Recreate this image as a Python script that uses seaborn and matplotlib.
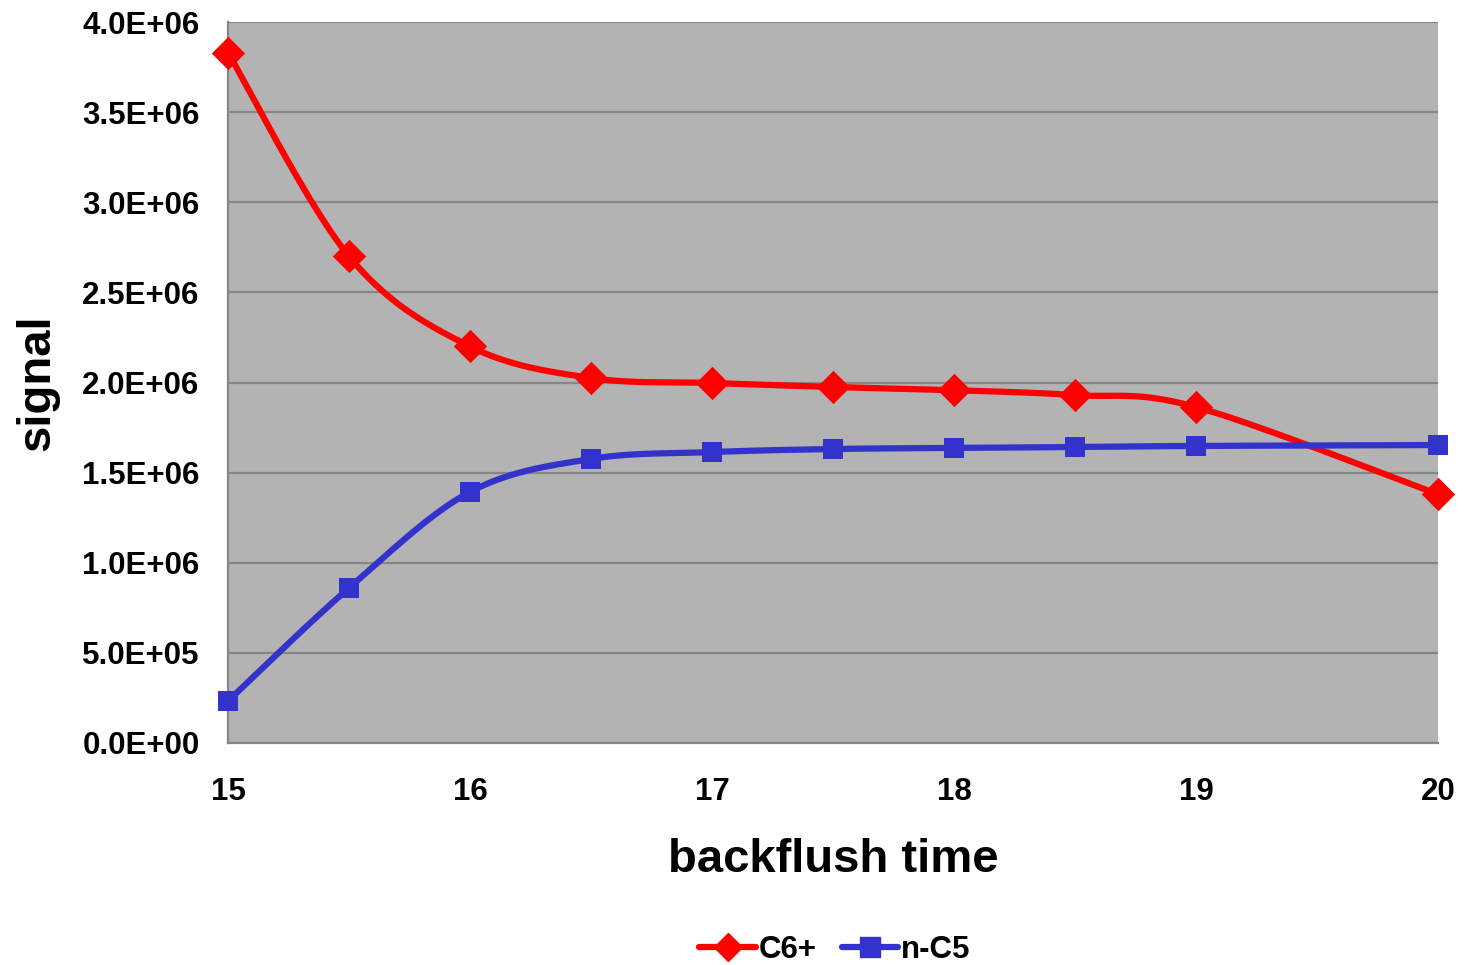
import numpy as np
import pandas as pd
import matplotlib
matplotlib.use("Agg")
import matplotlib.pyplot as plt
from matplotlib.lines import Line2D
from matplotlib.ticker import FuncFormatter
import seaborn as sns

# ---- data ----
backflush_time = [15, 15.5, 16, 16.5, 17, 17.5, 18, 18.5, 19, 20]
c6_plus = [3.83e6, 2.70e6, 2.20e6, 2.025e6, 1.997e6, 1.975e6, 1.957e6, 1.93e6, 1.864e6, 1.38e6]
n_c5 = [0.233e6, 0.86e6, 1.393e6, 1.576e6, 1.614e6, 1.631e6, 1.637e6, 1.642e6, 1.648e6, 1.653e6]
series_names = ["C6+", "n-C5"]
y_ticks = [0, 0.5e6, 1.0e6, 1.5e6, 2.0e6, 2.5e6, 3.0e6, 3.5e6, 4.0e6]
x_ticks = [15, 16, 17, 18, 19, 20]


def smooth(xs, ys, n=40):
    """Excel-style smoothed line: cubic Bezier through the points
    with control points from neighbouring points (Catmull-Rom)."""
    P = np.column_stack([xs, ys]).astype(float)
    P_ext = np.vstack([P[0], P, P[-1]])
    out = []
    t = np.linspace(0, 1, n)[:, None]
    for i in range(1, len(P_ext) - 2):
        p0, p1, p2, p3 = P_ext[i - 1], P_ext[i], P_ext[i + 1], P_ext[i + 2]
        c1 = p1 + (p2 - p0) / 6.0
        c2 = p2 - (p3 - p1) / 6.0
        seg = ((1 - t) ** 3) * p1 + 3 * ((1 - t) ** 2) * t * c1 + 3 * (1 - t) * t ** 2 * c2 + t ** 3 * p2
        out.append(seg if i == 1 else seg[1:])
    arr = np.vstack(out)
    return arr[:, 0], arr[:, 1]


sns.set_theme(style="white")
plt.rcParams["font.family"] = ["Liberation Sans", "DejaVu Sans"]
plt.rcParams["font.weight"] = "bold"
plt.rcParams["text.color"] = "black"
plt.rcParams["axes.labelcolor"] = "black"

fig = plt.figure(figsize=(14.73, 9.65), dpi=100)
ax = fig.add_axes([228 / 1473, 1 - 743 / 965, (1438 - 228) / 1473, (743 - 22) / 965])
ax.set_facecolor("#B3B3B3")

colors = {"C6+": "#FF0000", "n-C5": "#3333CC"}
markers = {"C6+": "D", "n-C5": "s"}
msizes = {"C6+": 17, "n-C5": 14.5}
values = {"C6+": c6_plus, "n-C5": n_c5}

for name in series_names:
    sx, sy = smooth(backflush_time, values[name])
    df_s = pd.DataFrame({"x": sx, "y": sy})
    sns.lineplot(data=df_s, x="x", y="y", sort=False, estimator=None,
                 color=colors[name], linewidth=4.5, ax=ax, zorder=3)
    df_p = pd.DataFrame({"x": backflush_time, "y": values[name]})
    sns.scatterplot(data=df_p, x="x", y="y", marker=markers[name],
                    s=msizes[name] ** 2, color=colors[name], edgecolor=colors[name],
                    linewidth=0, ax=ax, zorder=4, clip_on=False)

ax.set_xlim(15, 20)
ax.set_ylim(0, 4.0e6)
ax.set_xticks(x_ticks)
ax.set_yticks(y_ticks)
ax.yaxis.set_major_formatter(FuncFormatter(lambda v, p: f"{v:.1E}"))
ax.xaxis.set_major_formatter(FuncFormatter(lambda v, p: f"{v:g}"))

ax.grid(axis="y", color="#868686", linewidth=1.6)
ax.grid(axis="x", visible=False)
ax.set_axisbelow(True)

for side in ["top", "right"]:
    ax.spines[side].set_visible(False)
for side in ["left", "bottom"]:
    ax.spines[side].set_color("#868686")
    ax.spines[side].set_linewidth(1.6)

ax.tick_params(axis="both", which="major", direction="out", length=6.5, width=1.6,
               color="#868686", labelsize=22.5, labelcolor="black")
ax.tick_params(axis="x", pad=18)
ax.tick_params(axis="y", pad=14)
for lab in ax.get_xticklabels() + ax.get_yticklabels():
    lab.set_fontweight("bold")

ax.set_xlabel("backflush time", fontsize=34, fontweight="bold", labelpad=22, color="black")
ax.set_ylabel("signal", fontsize=34, fontweight="bold", labelpad=16, color="black")

handles = [Line2D([0], [0], color=colors[n], linewidth=4.5, marker=markers[n],
                  markersize=14) for n in series_names]
fig.legend(handles, series_names, loc="center", bbox_to_anchor=(835 / 1473, 1 - 950 / 965),
           ncol=2, frameon=False, handlelength=1.8, handletextpad=0.1,
           columnspacing=0.8, prop={"weight": "bold", "size": 22.5})

fig.savefig("out.png", dpi=100)
